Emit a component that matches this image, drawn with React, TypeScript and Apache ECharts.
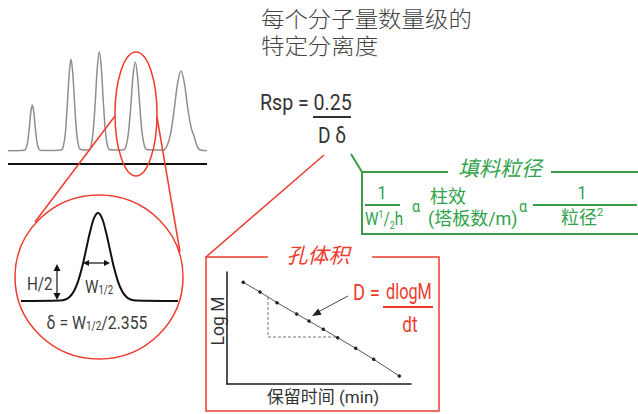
import React, { useEffect, useRef } from "react";
import * as echarts from "echarts";

// Chromatogram trace (time units, detector signal)
const chromTime = [0, 10, 16.8, 18.3, 19.8, 21.3, 22.8, 24.3, 25.8, 27.3, 28.8, 30.3, 31.8, 34, 45, 53.8, 55.6, 57.5, 59.3, 61.2, 63, 64.8, 66.7, 68.5, 70.4, 72.2, 76, 81.3, 83.3, 85.3, 87.3, 89.3, 91.3, 93.3, 95.3, 97.3, 99.3, 101.3, 108, 116, 118.3, 120.5, 122.8, 125, 127.3, 129.5, 131.8, 134, 136.3, 138.5, 148, 155.5, 159, 162.5, 166, 169.5, 173, 176.5, 180, 183.5, 186, 188, 190, 192.5, 199];
const chromSignal = [0.3, 0.3, 1, 3.3, 10, 23, 38.6, 46, 38.6, 23, 10, 3.3, 1, 0.5, 0.5, 1.2, 5.8, 19.3, 46, 77.3, 92, 77.3, 46, 19.3, 5.8, 1.6, 1, 1.3, 6.2, 20.8, 49.5, 83.2, 99, 83.2, 49.5, 20.8, 6.2, 1.5, 1, 1.2, 5.6, 18.7, 44.5, 74.8, 89, 74.8, 44.5, 18.7, 5.6, 1.4, 1, 1, 5, 16.8, 40, 67.2, 80, 67.2, 41, 22, 15, 8, 3, 1, 0.3];

// Single magnified peak
const peakOffset = [0, 39, 45, 49, 53, 57, 61, 65, 69, 73, 77, 81, 85, 89, 93, 97, 101, 105, 109, 115, 157];
const peakSignal = [0, 0.4, 1.8, 4.5, 10, 19.4, 33.4, 51, 69, 82.8, 88, 82.8, 69, 51, 33.4, 19.4, 10, 4.5, 1.8, 0.4, 0];

// Calibration: Log M vs retention time
const retentionTime = [16.3, 33, 50, 69.7, 82, 96.3, 110.7, 128.7, 146.7, 172.3];
const logM = [101.7, 92, 81.3, 70, 63, 54.7, 46.3, 35.7, 24.7, 8];
const slopeTime = [41, 41, 111];
const slopeLogM = [87, 47, 47];

// Texts
const titleLines = ["每个分子量数量级的", "特定分离度"];
const boxGreenTitle = "填料粒径";
const boxRedTitle = "孔体积";
const xAxisTitle = "保留时间 (min)";
const yAxisTitle = "Log M";

const LAT = 'Roboto,"Noto Sans CJK SC",sans-serif';
const CJK = '"Noto Sans CJK SC","Noto Sans",sans-serif';
const RED = "#ee3b2e";
const GREEN = "#2fa34c";
const GREEN_LINE = "#3a9c48";
const INK = "#3c3c3c";

const zip = (a: number[], b: number[]) => a.map((v, i) => [v, b[i]]);

function txt(x: number, y: number, text: string, o: any = {}) {
  return {
    type: "text",
    x,
    y,
    z: 20,
    rotation: o.rotation || 0,
    scaleX: o.scaleX || 1,
    style: {
      text,
      fill: o.fill || INK,
      fontSize: o.fontSize || 19,
      fontFamily: o.fontFamily || LAT,
      fontStyle: o.fontStyle || "normal",
      fontWeight: o.fontWeight || "normal",
      align: o.align || "left",
      verticalAlign: "middle",
      rich: o.rich,
    },
  };
}
function ln(x1: number, y1: number, x2: number, y2: number, stroke: string, lineWidth = 1.5) {
  return { type: "line", z: 15, shape: { x1, y1, x2, y2 }, style: { stroke, lineWidth } };
}
function pl(points: number[][], stroke: string, lineWidth = 1.5) {
  return { type: "polyline", z: 15, shape: { points }, style: { stroke, lineWidth, fill: "none" } };
}
function tri(points: number[][], fill: string) {
  return { type: "polygon", z: 16, shape: { points }, style: { fill, stroke: "none" } };
}

export default function App() {
  const ref = useRef<HTMLDivElement>(null);
  useEffect(() => {
    if (!ref.current) return;
    const chart = echarts.init(ref.current, undefined, { renderer: "svg" });
    const hidden = { show: false };
    const subRich = {
      n: { fontSize: 19, fontFamily: LAT, fill: INK, lineHeight: 22, verticalAlign: "bottom" },
      s: { fontSize: 12, fontFamily: LAT, fill: INK, lineHeight: 13, verticalAlign: "bottom" },
    };
    const gRich = {
      n: { fontSize: 19, fontFamily: LAT, fill: GREEN, lineHeight: 22, verticalAlign: "top" },
      c: { fontSize: 18, fontFamily: CJK, fill: GREEN, lineHeight: 22, verticalAlign: "top" },
      sup: { fontSize: 11, fontFamily: LAT, fill: GREEN, lineHeight: 12, verticalAlign: "top" },
      sub: { fontSize: 11, fontFamily: LAT, fill: GREEN, lineHeight: 12, verticalAlign: "bottom" },
    };
    chart.setOption({
      animation: false,
      backgroundColor: "#ffffff",
      grid: [
        { left: 8, top: 51, width: 199, height: 100 },
        { left: 21, top: 213, width: 157, height: 88 },
        { left: 227, top: 272, width: 184, height: 112 },
      ],
      xAxis: [
        { gridIndex: 0, type: "value", min: 0, max: 199, show: false },
        { gridIndex: 1, type: "value", min: 0, max: 157, show: false },
        {
          gridIndex: 2, type: "value", min: 0, max: 184,
          axisLine: { show: true, onZero: false, lineStyle: { color: "#1a1a1a", width: 1.5 } },
          axisTick: hidden, axisLabel: hidden, splitLine: hidden,
        },
      ],
      yAxis: [
        { gridIndex: 0, type: "value", min: 0, max: 100, show: false },
        { gridIndex: 1, type: "value", min: 0, max: 88, show: false },
        {
          gridIndex: 2, type: "value", min: 0, max: 112,
          axisLine: { show: true, onZero: false, lineStyle: { color: "#1a1a1a", width: 1.5 } },
          axisTick: hidden, axisLabel: hidden, splitLine: hidden,
        },
      ],
      series: [
        {
          type: "line", xAxisIndex: 0, yAxisIndex: 0, data: zip(chromTime, chromSignal),
          smooth: 0.3, symbol: "none", lineStyle: { color: "#8e8e8e", width: 1.5 },
        },
        {
          type: "line", xAxisIndex: 1, yAxisIndex: 1, data: zip(peakOffset, peakSignal),
          smooth: 0.35, symbol: "none", lineStyle: { color: "#111", width: 2 },
        },
        {
          type: "line", xAxisIndex: 2, yAxisIndex: 2, data: zip(slopeTime, slopeLogM),
          symbol: "none", lineStyle: { color: "#777", width: 1, type: [3, 2] },
        },
        {
          type: "line", xAxisIndex: 2, yAxisIndex: 2, data: zip(retentionTime, logM),
          symbol: "circle", symbolSize: 3.5, itemStyle: { color: "#222" },
          lineStyle: { color: "#555", width: 1 },
        },
      ],
      graphic: [
        // chromatogram baseline
        ln(8, 164, 207, 164, "#111", 2),
        // magnifier
        { type: "ellipse", z: 15, shape: { cx: 136, cy: 114, rx: 21, ry: 62 }, style: { fill: "none", stroke: RED, lineWidth: 1.5 } },
        ln(115, 116, 35, 222, RED, 1.5),
        ln(157, 117, 180, 252, RED, 1.5),
        { type: "ellipse", z: 15, shape: { cx: 99, cy: 277, rx: 84, ry: 82 }, style: { fill: "none", stroke: RED, lineWidth: 1.5 } },
        // H/2 arrow
        ln(57, 268, 57, 296, "#111", 1.2),
        tri([[57, 264], [53.5, 271], [60.5, 271]], "#111"),
        tri([[57, 300], [53.5, 293], [60.5, 293]], "#111"),
        // W1/2 arrow
        ln(86, 263, 107, 263, "#111", 1.2),
        tri([[83, 263], [89, 260], [89, 266]], "#111"),
        tri([[110, 263], [104, 260], [104, 266]], "#111"),
        txt(27, 283, "H/2", { fontSize: 19, scaleX: 0.8 }),
        txt(85, 285, "{n|W}{s|1/2}", { rich: subRich, scaleX: 0.8 }),
        txt(97, 321, "{n|δ = W}{s|1/2}{n|/2.355}", { rich: subRich, align: "center", scaleX: 0.83 }),
        // title (two lines)
        txt(261, 18, titleLines[0], { fontSize: 22, fontFamily: CJK, fill: "#444", fontWeight: 300, scaleX: 1.065 }),
        txt(261, 45, titleLines[1], { fontSize: 22, fontFamily: CJK, fill: "#444", fontWeight: 300, scaleX: 1.065 }),
        // Rsp formula
        txt(260, 103, "Rsp = 0.25", { fontSize: 22, fill: "#333", scaleX: 0.89 }),
        ln(313, 117, 351, 117, "#333", 2),
        txt(332, 136, "D δ", { fontSize: 22, fill: "#333", align: "center", scaleX: 0.87 }),
        // green branch
        pl([[351, 154], [362, 172], [448, 172]], GREEN_LINE, 2),
        ln(551, 172, 638, 172, GREEN_LINE, 2),
        pl([[362, 172], [362, 234], [638, 234]], GREEN_LINE, 2),
        txt(500, 167, boxGreenTitle, { fontSize: 21, fontFamily: CJK, fill: GREEN, fontStyle: "italic", align: "center" }),
        txt(382, 193, "1", { fontSize: 19, fill: GREEN, align: "center", scaleX: 0.85 }),
        ln(365, 205, 400, 205, GREEN_LINE, 2),
        txt(384, 220, "{n|W}{sup|1}{n|/}{sub|2}{n|h}", { rich: gRich, align: "center", scaleX: 0.8 }),
        txt(416, 206, "α", { fontSize: 17, fill: GREEN, align: "center", scaleX: 0.85 }),
        txt(430, 195, "柱效", { fontSize: 18, fontFamily: CJK, fill: GREEN }),
        txt(428, 218, "(塔板数/m)", { fontSize: 18, fontFamily: LAT, fill: GREEN }),
        txt(523, 206, "α", { fontSize: 17, fill: GREEN, align: "center", scaleX: 0.85 }),
        ln(533, 205, 637, 205, GREEN_LINE, 2),
        txt(582, 193, "1", { fontSize: 19, fill: GREEN, align: "center", scaleX: 0.85 }),
        txt(582, 218, "{c|粒径}{sup|2}", { rich: gRich, align: "center" }),
        // red branch
        ln(324, 155, 206, 257, RED, 1.5),
        pl([[268, 257], [206, 257], [206, 411], [439, 411], [439, 257], [372, 257]], RED, 1.5),
        txt(318, 254, boxRedTitle, { fontSize: 21, fontFamily: CJK, fill: RED, fontStyle: "italic", align: "center" }),
        // slope pointer
        ln(348, 296, 318, 312, "#444", 1),
        tri([[312, 316], [321.6, 314.8], [318.2, 308.6]], "#222"),
        txt(353, 292, "D =", { fontSize: 22, fill: RED, scaleX: 0.84 }),
        txt(386, 292, "dlogM", { fontSize: 22, fill: RED, scaleX: 0.74 }),
        ln(383, 307, 433, 307, RED, 2),
        txt(410, 325, "dt", { fontSize: 22, fill: RED, align: "center", scaleX: 0.78 }),
        // axis titles
        txt(217, 321, yAxisTitle, { fontSize: 19, align: "center", rotation: Math.PI / 2, fill: "#333", scaleX: 0.92 }),
        txt(323, 397, xAxisTitle, { fontSize: 17, align: "center", fill: "#333" }),
      ],
    });
    return () => chart.dispose();
  }, []);
  return (
    <div
      ref={ref}
      style={{ position: "fixed", left: 0, top: 0, width: 638, height: 414, background: "#fff" }}
    />
  );
}
